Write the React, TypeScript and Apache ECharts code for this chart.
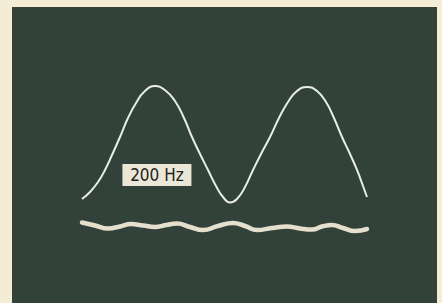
import React, { useEffect, useRef } from "react";
import * as echarts from "echarts";

// Screen divisions: x across 0..10, y up 0..8
const sineX = [1.647, 1.835, 2.024, 2.188, 2.353, 2.541, 2.729, 2.918, 3.106, 3.365, 3.624, 3.835, 4.047, 4.235, 4.424, 4.612, 4.8, 4.965, 5.129, 5.294, 5.482, 5.671, 5.859, 6.071, 6.282, 6.494, 6.706, 6.941, 7.176, 7.388, 7.576, 7.765, 7.953, 8.118, 8.259, 8.353];
const sineY = [2.811, 3.0, 3.27, 3.595, 4.0, 4.486, 5.0, 5.405, 5.703, 5.865, 5.73, 5.459, 5.0, 4.486, 4.027, 3.595, 3.162, 2.865, 2.716, 2.811, 3.135, 3.595, 4.027, 4.486, 5.0, 5.432, 5.73, 5.838, 5.73, 5.432, 5.0, 4.486, 4.027, 3.595, 3.162, 2.865];

const rippleX = [1.647, 1.953, 2.259, 2.541, 2.8, 3.082, 3.365, 3.624, 3.882, 4.188, 4.494, 4.847, 5.2, 5.482, 5.765, 6.118, 6.471, 6.776, 7.059, 7.294, 7.529, 7.788, 8.071, 8.353];
const rippleY = [2.176, 2.095, 2.014, 2.068, 2.135, 2.095, 2.054, 2.108, 2.149, 2.054, 1.973, 2.081, 2.162, 2.081, 1.973, 2.027, 2.068, 2.014, 1.986, 2.068, 2.108, 2.027, 1.946, 2.0];

const labelText = "200 Hz";
const labelPos = [3.41, 3.46];

export default function App() {
  const ref = useRef<HTMLDivElement>(null);
  useEffect(() => {
    if (!ref.current) return;
    const chart = echarts.init(ref.current, undefined, { renderer: "svg" });
    chart.setOption({
      animation: false,
      backgroundColor: "#f4ecd4",
      grid: {
        left: 12,
        top: 7,
        right: 5,
        bottom: 0,
        show: true,
        backgroundColor: "#33413b",
        borderWidth: 0,
      },
      xAxis: { type: "value", min: 0, max: 10, show: false },
      yAxis: { type: "value", min: 0, max: 8, show: false },
      series: [
        {
          type: "line",
          data: sineX.map((x, i) => [x, sineY[i]]),
          smooth: true,
          showSymbol: false,
          lineStyle: { color: "#e8ede6", width: 2 },
          markPoint: {
            symbol: "rect",
            symbolSize: [69, 22],
            itemStyle: { color: "#ebe7d8" },
            label: {
              show: true,
              formatter: labelText,
              color: "#1e2220",
              fontSize: 17,
              fontFamily: "'DejaVu Sans Condensed', sans-serif",
            },
            data: [{ coord: labelPos, value: labelText }],
          },
        },
        {
          type: "line",
          data: rippleX.map((x, i) => [x, rippleY[i]]),
          smooth: true,
          showSymbol: false,
          lineStyle: { color: "#e5e0cd", width: 4.5, cap: "round" },
        },
      ],
    });
    return () => chart.dispose();
  }, []);
  return (
    <div
      ref={ref}
      style={{ position: "fixed", left: 0, top: 0, width: 442, height: 303 }}
    />
  );
}
